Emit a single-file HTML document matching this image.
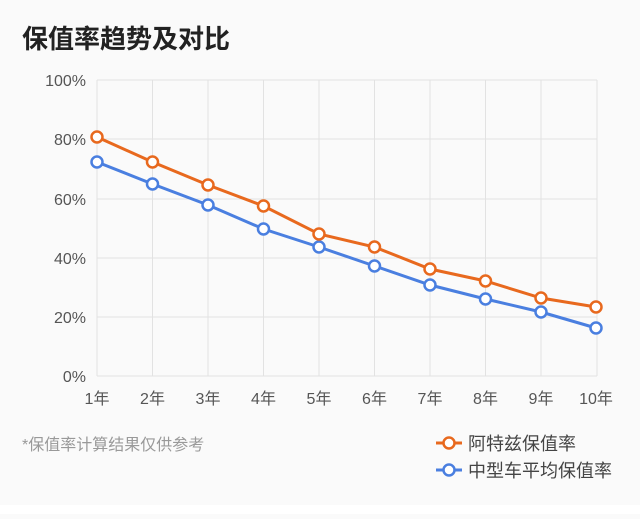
<!DOCTYPE html><html><head><meta charset="utf-8"><style>
body{margin:0;width:640px;height:514px;background:#fafafa;overflow:hidden}
</style></head><body>
<svg width="640" height="514" xmlns="http://www.w3.org/2000/svg" font-family="Liberation Sans, Noto Sans CJK SC, sans-serif">
<rect width="640" height="505" fill="#fafafa"/><rect y="505" width="640" height="9" fill="#fff"/>
<text x="22" y="48" font-size="26" font-weight="bold" fill="#222">保值率趋势及对比</text>
<g stroke="#e2e2e2" stroke-width="1">
<line x1="97" y1="80" x2="597" y2="80"/><line x1="97" y1="139" x2="597" y2="139"/><line x1="97" y1="199" x2="597" y2="199"/><line x1="97" y1="258" x2="597" y2="258"/><line x1="97" y1="317" x2="597" y2="317"/><line x1="97" y1="376" x2="597" y2="376"/>
<line x1="97" y1="80" x2="97" y2="376"/><line x1="152.5" y1="80" x2="152.5" y2="376"/><line x1="208" y1="80" x2="208" y2="376"/><line x1="263.5" y1="80" x2="263.5" y2="376"/><line x1="319" y1="80" x2="319" y2="376"/><line x1="374.5" y1="80" x2="374.5" y2="376"/><line x1="430" y1="80" x2="430" y2="376"/><line x1="485.5" y1="80" x2="485.5" y2="376"/><line x1="541" y1="80" x2="541" y2="376"/><line x1="597" y1="80" x2="597" y2="376"/>
</g>
<g font-size="16" fill="#555" text-anchor="end">
<text x="86" y="86">100%</text><text x="86" y="145">80%</text><text x="86" y="205">60%</text><text x="86" y="264">40%</text><text x="86" y="323">20%</text><text x="86" y="382">0%</text>
</g>
<g font-size="16" fill="#555" text-anchor="middle">
<text x="97" y="404">1年</text><text x="152.5" y="404">2年</text><text x="208" y="404">3年</text><text x="263.5" y="404">4年</text><text x="319" y="404">5年</text><text x="374.5" y="404">6年</text><text x="430" y="404">7年</text><text x="485.5" y="404">8年</text><text x="541" y="404">9年</text><text x="596" y="404">10年</text>
</g>
<polyline fill="none" stroke="#4a7fe0" stroke-width="3" points="97,162 152.5,184 208,205 263.5,229 319,247 374.5,266 430,285 485.5,299 541,312 596,328"/>
<polyline fill="none" stroke="#e8691e" stroke-width="3" points="97,137 152.5,162 208,185 263.5,206 319,234 374.5,247 430,269 485.5,281 541,298 596,307"/>
<g fill="#fff" stroke="#4a7fe0" stroke-width="2.5">
<circle cx="97" cy="162" r="5.5"/><circle cx="152.5" cy="184" r="5.5"/><circle cx="208" cy="205" r="5.5"/><circle cx="263.5" cy="229" r="5.5"/><circle cx="319" cy="247" r="5.5"/><circle cx="374.5" cy="266" r="5.5"/><circle cx="430" cy="285" r="5.5"/><circle cx="485.5" cy="299" r="5.5"/><circle cx="541" cy="312" r="5.5"/><circle cx="596" cy="328" r="5.5"/>
</g>
<g fill="#fff" stroke="#e8691e" stroke-width="2.5">
<circle cx="97" cy="137" r="5.5"/><circle cx="152.5" cy="162" r="5.5"/><circle cx="208" cy="185" r="5.5"/><circle cx="263.5" cy="206" r="5.5"/><circle cx="319" cy="234" r="5.5"/><circle cx="374.5" cy="247" r="5.5"/><circle cx="430" cy="269" r="5.5"/><circle cx="485.5" cy="281" r="5.5"/><circle cx="541" cy="298" r="5.5"/><circle cx="596" cy="307" r="5.5"/>
</g>
<text x="22" y="450" font-size="16" fill="#999">*保值率计算结果仅供参考</text>
<line x1="436" y1="443" x2="462" y2="443" stroke="#e8691e" stroke-width="3"/><circle cx="449" cy="443" r="5.5" fill="#fff" stroke="#e8691e" stroke-width="2.5"/>
<line x1="436" y1="470" x2="462" y2="470" stroke="#4a7fe0" stroke-width="3"/><circle cx="449" cy="470" r="5.5" fill="#fff" stroke="#4a7fe0" stroke-width="2.5"/>
<text x="468" y="450" font-size="18" fill="#444">阿特兹保值率</text>
<text x="468" y="477" font-size="18" fill="#444">中型车平均保值率</text>
</svg>
</body></html>
